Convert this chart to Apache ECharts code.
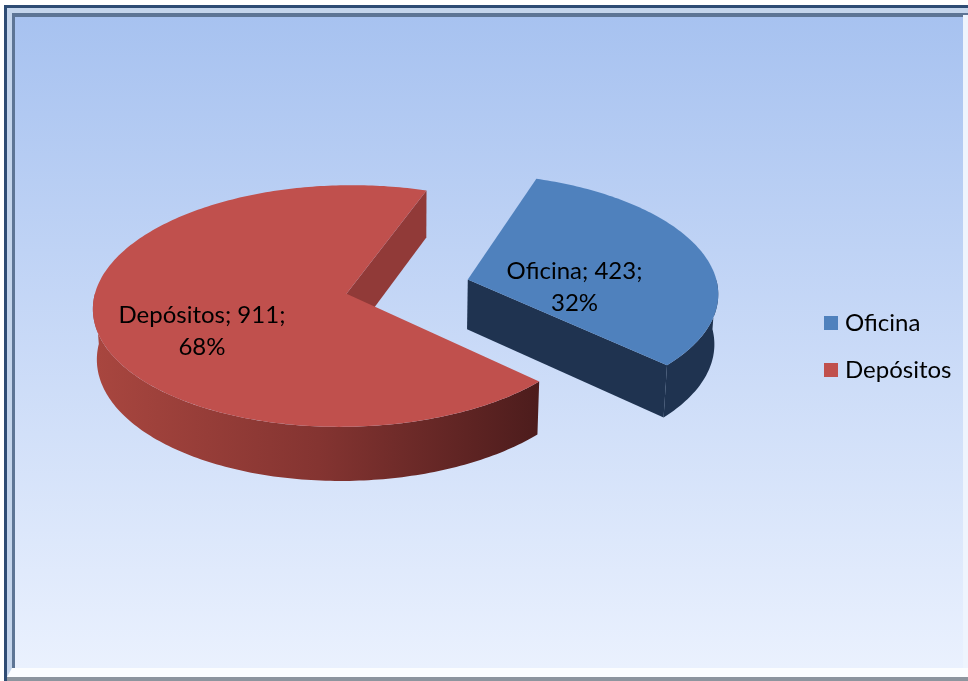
<!DOCTYPE html>
<html>
<head>
<meta charset="utf-8">
<style>html,body{margin:0;padding:0;background:#fff;}#c{width:968px;height:681px;}</style>
<script src="https://cdn.jsdelivr.net/npm/echarts@6/dist/echarts.min.js"></script>
</head>
<body>
<div id="c"></div>
<script>
// ---- data ----
const categories = ['Oficina', 'Depósitos'];
const values = [423, 911];
const sliceColors = ['#4F81BD', '#C0504D'];

// ---- 3D projection settings (style, not data) ----
const V = {
  cx: 407.5, cy: 286.5, S: 250, tilt: 28.2 * Math.PI / 180, D: 8.66,
  depth: 0.23, explode: 0.25, startDeg: -71
};
const cosT = Math.cos(V.tilt), sinT = Math.sin(V.tilt);
function project(X, Y, Z) {
  const d = Z * cosT + Y * sinT;
  const v = Y * cosT - Z * sinT;
  const f = V.D / (V.D - d);
  return [V.cx + V.S * X * f, V.cy - V.S * v * f];
}
const total = values.reduce((a, b) => a + b, 0);
const sideStyles = [
  { wall: '#1F3350', cut: '#1F3350' },
  { wall: { type: 'linear', x: 97, y: 0, x2: 540, y2: 0, global: true,
            colorStops: [{ offset: 0, color: '#A8463F' }, { offset: 0.5, color: '#843431' }, { offset: 1, color: '#4C1C1C' }] },
    cut: '#913A38' }
];
const labelPlace = [{ r: 0.45, dy: 20 }, { r: 0.58, dy: 21 }];
const FONT = 'Lato, "Open Sans", sans-serif';

function makeRender(i) {
  return function (params, api) {
    const v = api.value(0);
    const before = values.slice(0, i).reduce((a, b) => a + b, 0);
    const a0 = V.startDeg + before / total * 360;
    const a1 = a0 + v / total * 360;
    const rad = d => d * Math.PI / 180;
    const mid = rad((a0 + a1) / 2);
    const ox = V.explode * Math.cos(mid), oz = V.explode * Math.sin(mid);
    const rim = (deg, Y, r) => project(ox + (r == null ? 1 : r) * Math.cos(rad(deg)), Y, oz + (r == null ? 1 : r) * Math.sin(rad(deg)));
    const h = -V.depth;
    const arc = (b0, b1, Y) => { const pts = []; const n = Math.max(2, Math.ceil(Math.abs(b1 - b0))); for (let k = 0; k <= n; k++) pts.push(rim(b0 + (b1 - b0) * k / n, Y)); return pts; };
    const children = [];
    const apexTop = project(ox, 0, oz), apexBot = project(ox, h, oz);
    // cut faces
    const cutFace = (deg) => ({ type: 'polygon', z2: 1, shape: { points: [apexTop, rim(deg, 0), rim(deg, h), apexBot] }, style: { fill: sideStyles[i].cut } });
    if (-Math.cos(rad(a0)) > 0) children.push(cutFace(a0));
    if (Math.cos(rad(a1)) > 0) children.push(cutFace(a1));
    // outer wall: visible where sin>0
    for (let k = -1; k <= 1; k++) {
      const lo = Math.max(a0, k * 360), hi = Math.min(a1, k * 360 + 180);
      if (hi > lo) {
        const pts = arc(lo, hi, 0).concat(arc(hi, lo, h));
        children.push({ type: 'polygon', z2: 2, shape: { points: pts }, style: { fill: sideStyles[i].wall } });
      }
    }
    // top face
    children.push({ type: 'polygon', z2: 10, shape: { points: [apexTop].concat(arc(a0, a1, 0)) }, style: { fill: sliceColors[i] } });
    // label
    const lp = rim((a0 + a1) / 2, 0, labelPlace[i].r);
    const pct = Math.round(v / total * 100);
    children.push({ type: 'text', z2: 20, x: lp[0], y: lp[1] + labelPlace[i].dy,
      style: { text: categories[i] + '; ' + v + ';\n' + pct + '%', fill: '#000', fontSize: 24, fontFamily: FONT,
               align: 'center', verticalAlign: 'middle', lineHeight: 32 } });
    return { type: 'group', children: children };
  };
}

const chart = echarts.init(document.getElementById('c'), null, { renderer: 'canvas' });
const bgGrad = { type: 'linear', x: 0, y: 0, x2: 0, y2: 1, colorStops: [{ offset: 0, color: '#A7C2F0' }, { offset: 1, color: '#EAF1FE' }] };
chart.setOption({
  animation: false,
  graphic: [
    { type: 'rect', z: -10, shape: { x: 4, y: 5, width: 980, height: 676 }, style: { fill: '#2E4C74' } },
    { type: 'rect', z: -10, shape: { x: 7, y: 8, width: 980, height: 670 }, style: { fill: '#C4D5EC' } },
    { type: 'rect', z: -10, shape: { x: 12, y: 13, width: 980, height: 660 }, style: { fill: '#5D7595' } },
    { type: 'rect', z: -10, shape: { x: 15, y: 17, width: 948, height: 651 }, style: { fill: bgGrad } },
    { type: 'rect', z: -10, shape: { x: 963, y: 15, width: 5, height: 655 }, style: { fill: '#EEF4FD' } },
    { type: 'polygon', z: -10, shape: { points: [[12, 668], [968, 668], [968, 677], [7, 677]] }, style: { fill: '#FBFDFF' } },
    { type: 'rect', z: -10, shape: { x: 7, y: 677, width: 970, height: 4 }, style: { fill: '#8D959E' } }
  ],
  legend: {
    orient: 'vertical', left: 819, top: 303, itemWidth: 14, itemHeight: 14, itemGap: 17, icon: 'rect',
    selectedMode: false, data: categories,
    textStyle: { fontSize: 24, fontFamily: FONT, color: '#000', lineHeight: 30, padding: [0, 0, 0, 2] }
  },
  series: categories.map((name, i) => ({
    type: 'custom', name: name, coordinateSystem: 'none',
    itemStyle: { color: sliceColors[i] },
    data: [{ name: name, value: values[i] }],
    renderItem: makeRender(i)
  }))
});
</script>
</body>
</html>
